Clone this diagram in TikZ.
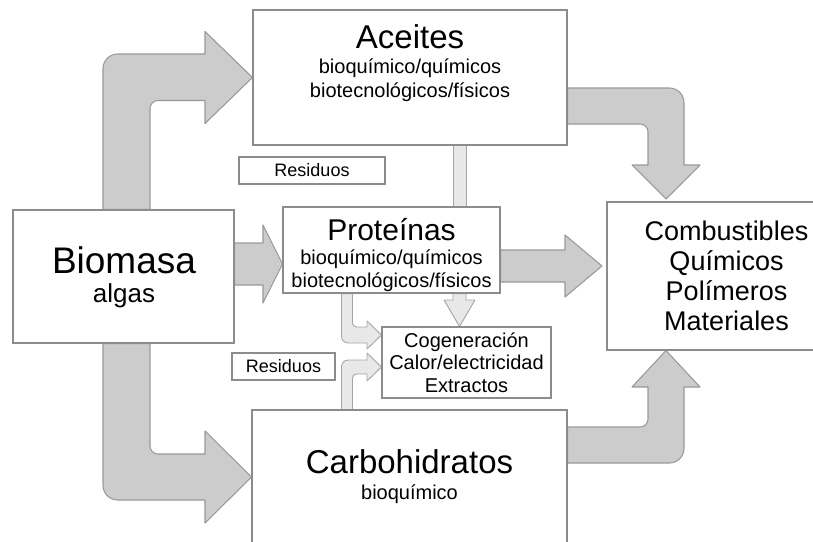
\documentclass[tikz,border=0pt]{standalone}
\usepackage{fontspec}
\setmainfont{Liberation Sans}
\usetikzlibrary{backgrounds}

\begin{document}
\begin{tikzpicture}[x=0.75pt, y=-0.75pt,
    caja/.style={draw=black!45, fill=white, line width=0.8pt, inner sep=0pt, align=center},
    flecha/.style={draw=black!40, fill=black!20, line width=0.8pt, line join=round},
    flechita/.style={draw=black!35, fill=black!9, line width=0.7pt, line join=round},
    texto/.style={anchor=base, align=center, inner sep=0pt}]
    \useasboundingbox (0,0) rectangle (813,542);
    \clip (0,0) rectangle (813,542);

    % Cajas
    \node[caja, minimum width=165.75pt, minimum height=99.75pt] (bio) at (123.5,276.5) {};
    \node[caja, minimum width=235.5pt, minimum height=101.25pt] (ace) at (410,77.5) {};
    \node[caja, minimum width=162.75pt, minimum height=64.5pt] (pro) at (391.5,250) {};
    \node[caja, minimum width=236.25pt, minimum height=100.5pt] (car) at (409.5,477) {};
    \node[caja, minimum width=179.25pt, minimum height=111pt,
          font=\fontsize{20.25}{22.5}\selectfont] (com) at (726.5,276)
          {Combustibles\\Químicos\\Polímeros\\Materiales};
    \node[caja, minimum width=126.75pt, minimum height=53.25pt,
          font=\fontsize{15}{16.9}\selectfont] (cog) at (466.5,362.5)
          {Cogeneración\\Calor/electricidad\\Extractos};
    \node[caja, minimum width=109.5pt, minimum height=20.25pt,
          font=\fontsize{13.5}{15}\selectfont] (res1) at (312,170.5) {Residuos};
    \node[caja, minimum width=77.25pt, minimum height=20.25pt,
          font=\fontsize{13.5}{15}\selectfont] (res2) at (283.5,366.5) {Residuos};

    % Textos
    \node[texto, font=\fontsize{27.75}{31}\selectfont] (biotit) at (124,273) {Biomasa};
    \node[texto, font=\fontsize{19.5}{22}\selectfont] (biosub) at (124,302) {algas};
    \node[texto, font=\fontsize{24.75}{29}\selectfont] (acetit) at (410,49) {Aceites};
    \node[texto, font=\fontsize{15}{17.25}\selectfont] (acesub) at (410,97)
        {bioquímico/químicos\\biotecnológicos/físicos};
    \node[texto, font=\fontsize{22.5}{26}\selectfont] (protit) at (391.5,240) {Proteínas};
    \node[texto, font=\fontsize{15}{17.25}\selectfont] (prosub) at (391.5,287)
        {bioquímico/químicos\\biotecnológicos/físicos};
    \node[texto, font=\fontsize{24.75}{29}\selectfont] (cartit) at (409.5,473) {Carbohidratos};
    \node[texto, font=\fontsize{15}{17.25}\selectfont] (carsub) at (409.5,499) {bioquímico};

    % Puntas libres
    \coordinate (puntaA) at (602,266);
    \coordinate (puntaB) at (666,199);

    \begin{scope}[on background layer]
        % Flechas grandes
        \draw[flecha] (103,0 |- bio.north) -- (103,120) [rounded corners=11pt] -- (103,54)
            -- (160,54) [sharp corners] -- (205,54) -- (205,31.5) -- (ace.west)
            -- (205,123.5) -- (205,100.5) -- (180,100.5) [rounded corners=6pt] -- (150,100.5)
            -- (150,140) [sharp corners] -- (150,0 |- bio.north) -- cycle;
        \draw[flecha] (103,0 |- bio.south) -- (103,400) [rounded corners=11pt] -- (103,500)
            -- (160,500) [sharp corners] -- (205,500) -- (205,523) -- (car.west)
            -- (205,431) -- (205,454) -- (180,454) [rounded corners=6pt] -- (150,454)
            -- (150,400) [sharp corners] -- (150,0 |- bio.south) -- cycle;
        \draw[flecha] (bio.east |- 0,243) -- (263,243) -- (263,225) -- (pro.west |- 0,264)
            -- (263,303) -- (263,285) -- (bio.east |- 0,285) -- cycle;
        \draw[flecha] (pro.east |- 0,250) -- (565,250) -- (565,235) -- (puntaA)
            -- (565,297) -- (565,282) -- (pro.east |- 0,282) -- cycle;
        \draw[flecha] (ace.east |- 0,88) -- (620,88) [rounded corners=11pt] -- (684,88)
            -- (684,140) [sharp corners] -- (684,165) -- (700,165) -- (puntaB)
            -- (632,165) -- (648,165) -- (648,145) [rounded corners=6pt] -- (648,124)
            -- (610,124) [sharp corners] -- (ace.east |- 0,124) -- cycle;
        \draw[flecha] (car.east |- 0,463) -- (620,463) [rounded corners=11pt] -- (684,463)
            -- (684,420) [sharp corners] -- (684,387) -- (700,387) -- (666,0 |- com.south)
            -- (632,387) -- (648,387) -- (648,405) [rounded corners=6pt] -- (648,427)
            -- (610,427) [sharp corners] -- (car.east |- 0,427) -- cycle;

        % Flechas de residuos
        \draw[flechita] (453,0 |- ace.south) rectangle (466,0 |- pro.north);
        \draw[flechita] (453,0 |- pro.south) -- (453,300) -- (444,300) -- (459.5,0 |- cog.north)
            -- (475,300) -- (466,300) -- (466,0 |- pro.south) -- cycle;
        \draw[flechita] (341.5,0 |- pro.south) -- (341.5,315) [rounded corners=5pt] -- (341.5,343)
            -- (355,343) [sharp corners] -- (367,343) -- (367,349) -- (cog.west |- 0,335)
            -- (367,321) -- (367,327) -- (360,327) [rounded corners=3pt] -- (352.5,327)
            -- (352.5,310) [sharp corners] -- (352.5,0 |- pro.south) -- cycle;
        \draw[flechita] (341.5,0 |- car.north) -- (341.5,390) [rounded corners=5pt] -- (341.5,360)
            -- (355,360) [sharp corners] -- (367,360) -- (367,353) -- (cog.west |- 0,367)
            -- (367,381) -- (367,374) -- (360,374) [rounded corners=3pt] -- (352.5,374)
            -- (352.5,392) [sharp corners] -- (352.5,0 |- car.north) -- cycle;
    \end{scope}
\end{tikzpicture}
\end{document}
